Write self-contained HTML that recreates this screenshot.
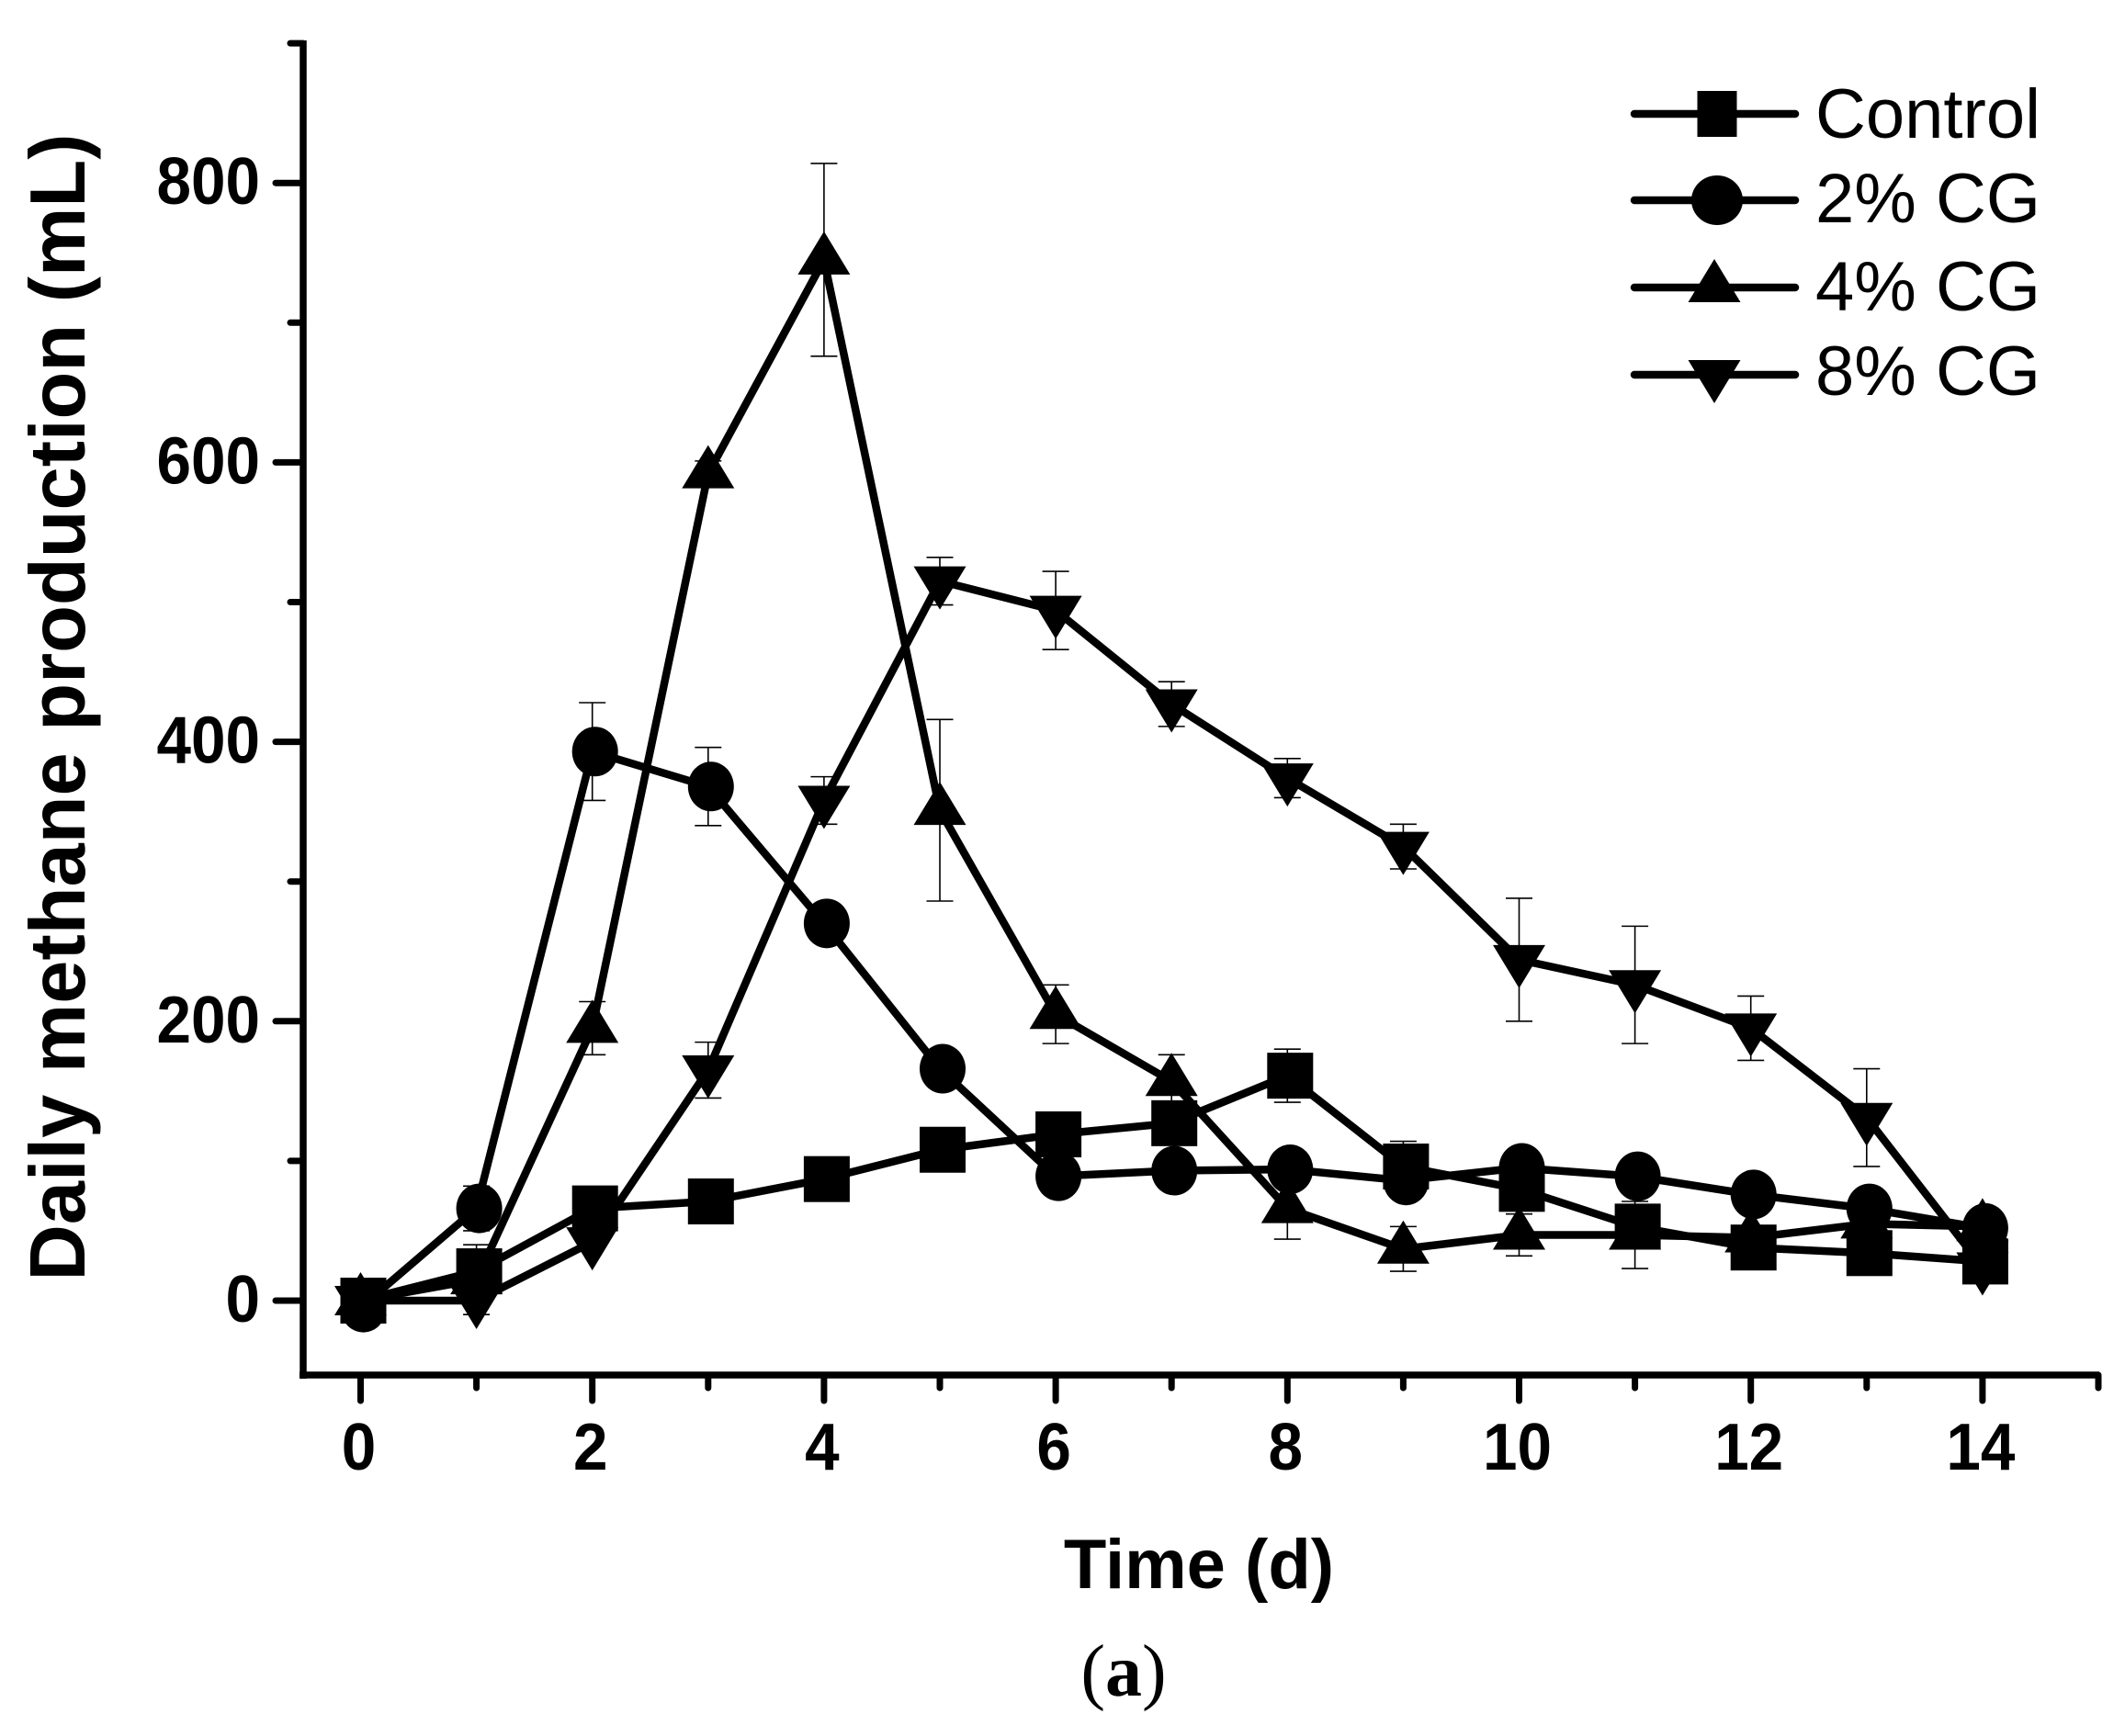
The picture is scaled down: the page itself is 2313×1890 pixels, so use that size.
<!DOCTYPE html>
<html lang="en">
<head>
<meta charset="utf-8">
<title>Daily methane production</title>
<style>
html,body{margin:0;padding:0;background:#fff;}
svg{display:block;}
text{fill:#000;font-family:"Liberation Sans",Arial,sans-serif;}
</style>
</head>
<body>
<svg id="chart" xmlns="http://www.w3.org/2000/svg" width="2313" height="1890" viewBox="0 0 2313 1890">
  <rect x="0" y="0" width="2313" height="1890" fill="#fff"/>
  <g id="errors"></g>
  <g id="lines"></g>
  <g id="markers"></g>
  <g id="axes"></g>
  <g id="legend"></g>
  <text transform="translate(92,770) rotate(-90)" text-anchor="middle" font-size="85" font-weight="bold" textLength="1249" lengthAdjust="spacingAndGlyphs">Daily methane production (mL)</text>
  <text x="1305" y="1729" text-anchor="middle" font-size="76" font-weight="bold">Time (d)</text>
  <text x="1223" y="1846" text-anchor="middle" font-size="80" style="font-family:'Liberation Serif',serif">(<tspan font-weight="bold">a</tspan>)</text>
</svg>
<script>
var days = [0,1,2,3,4,5,6,7,8,9,10,11,12,13,14];
var controlValues = [0,21,66,71,87,108,119,127,161,96,80,53,38,34,28];
var cg2Values = [-5,66,393,368,270,166,89,93,94,86,95,89,76,66,52];
var cg4Values = [0,15,195,592,745,351,205,157,66,37,47,47,45,55,53];
var cg8Values = [0,0,42,165,358,515,494,427,374,325,244,226,195,131,24];
var controlErrors = [0,0,0,0,0,0,0,0,19,18,0,0,0,0,0];
var cg2Errors = [0,16,35,28,0,0,0,0,0,0,0,0,0,0,0];
var cg4Errors = [0,25,19,9,69,65,21,19,22,16,15,24,0,0,0];
var cg8Errors = [0,0,0,20,17,17,28,16,14,16,44,42,23,35,0];
var xTickValues = [0,1,2,3,4,5,6,7,8,9,10,11,12,13,14,15];
var yTickValues = [0,100,200,300,400,500,600,700,800,900];
var seriesNames = ['Control','2% CG','4% CG','8% CG'];

var NS = 'http://www.w3.org/2000/svg';
function xScale(d){ return 392.5 + 126.1 * d; }
function yScale(v){ return 1416 - 1.521 * v; }
function make(tag, parent, attrs){
  var el = document.createElementNS(NS, tag);
  for (var k in attrs) el.setAttribute(k, attrs[k]);
  parent.appendChild(el);
  return el;
}
function drawMarker(kind, parent, cx, cy, wScale){
  var el;
  if (kind === 'square') {
    el = make('rect', parent, {x: cx + 3 - 25 * wScale, y: cy - 25, width: 50 * wScale, height: 50, fill: '#000'});
  } else if (kind === 'circle') {
    el = make('ellipse', parent, {cx: cx + 3, cy: cy, rx: 25 * (wScale === 1 ? 1 : 1.12), ry: 27, fill: '#000'});
  } else if (kind === 'up') {
    el = make('polygon', parent, {points: (cx - 28.5) + ',' + (cy + 16) + ' ' + (cx + 28.5) + ',' + (cy + 16) + ' ' + cx + ',' + (cy - 31), fill: '#000'});
  } else {
    el = make('polygon', parent, {points: (cx - 28.5) + ',' + (cy - 16) + ' ' + (cx + 28.5) + ',' + (cy - 16) + ' ' + cx + ',' + (cy + 31), fill: '#000'});
  }
  return el;
}

var seriesKinds = ['square','circle','up','down'];
var allValues = [controlValues, cg2Values, cg4Values, cg8Values];
var allErrors = [controlErrors, cg2Errors, cg4Errors, cg8Errors];

var errorsG = document.getElementById('errors');
var linesG = document.getElementById('lines');
var markersG = document.getElementById('markers');
var axesG = document.getElementById('axes');
var legendG = document.getElementById('legend');

allValues.forEach(function(values, s){
  var errs = allErrors[s];
  days.forEach(function(d, i){
    if (!errs[i]) return;
    var x = xScale(d), hi = yScale(values[i] + errs[i]), lo = yScale(values[i] - errs[i]);
    var p = make('path', errorsG, {d: 'M' + (x - 14.5) + ' ' + hi + 'H' + (x + 14.5) + 'M' + x + ' ' + hi + 'V' + lo + 'M' + (x - 14.5) + ' ' + lo + 'H' + (x + 14.5), fill: 'none', stroke: '#000', 'stroke-width': 1.6});
    
    
  });
  var pts = days.map(function(d, i){ return xScale(d) + ',' + yScale(values[i]); }).join(' ');
  var line = make('polyline', linesG, {points: pts, fill: 'none', stroke: '#000', 'stroke-width': 8.5, 'stroke-linejoin': 'round'});
  
  
  days.forEach(function(d, i){
    var m = drawMarker(seriesKinds[s], markersG, xScale(d), yScale(values[i]), 1);
    
    
  });
});

/* axes */
var yAxis = make('path', axesG, {d: 'M330 44V1501', stroke: '#000', 'stroke-width': 7.5, fill: 'none'});


var xAxis = make('path', axesG, {d: 'M326 1497H2285', stroke: '#000', 'stroke-width': 7.5, fill: 'none'});



yTickValues.forEach(function(v){
  var major = v % 200 === 0;
  var y = yScale(v);
  var t = make('line', axesG, {x1: 330, x2: major ? 300 : 316, y1: y, y2: y, stroke: '#000', 'stroke-width': 7, 'stroke-linecap': 'round'});
  
  
  if (major) {
    var text = String(v);
    var label = make('text', axesG, {x: 283, y: y + 23, 'text-anchor': 'end', 'font-size': 72, 'font-weight': 'bold', textLength: 37.5 * text.length, lengthAdjust: 'spacingAndGlyphs'});
    label.textContent = text;
    
    
  }
});
xTickValues.forEach(function(d){
  var major = d % 2 === 0;
  var x = xScale(d);
  var t = make('line', axesG, {x1: x, x2: x, y1: 1497, y2: major ? 1525 : 1511, stroke: '#000', 'stroke-width': 7, 'stroke-linecap': 'round'});
  
  
  if (major && d < 15) {
    var text = String(d);
    var label = make('text', axesG, {x: x - 2, y: 1600, 'text-anchor': 'middle', 'font-size': 72, 'font-weight': 'bold', textLength: 37.5 * text.length, lengthAdjust: 'spacingAndGlyphs'});
    label.textContent = text;
    
    
  }
});

/* legend */
var legendLineY = [124, 218, 313, 408];
var legendTextY = [150, 242, 338, 430];
seriesNames.forEach(function(name, i){
  var y = legendLineY[i];
  var g = make('g', legendG, {});
  
  
  make('line', g, {x1: 1779, x2: 1954, y1: y, y2: y, stroke: '#000', 'stroke-width': 8.5, 'stroke-linecap': 'round'});
  drawMarker(seriesKinds[i], g, 1866, y, i === 0 ? 0.86 : 1.12);
  var label = make('text', g, {x: 1976, y: legendTextY[i], 'font-size': 76});
  label.textContent = name;
  
  
});
</script>
</body>
</html>
